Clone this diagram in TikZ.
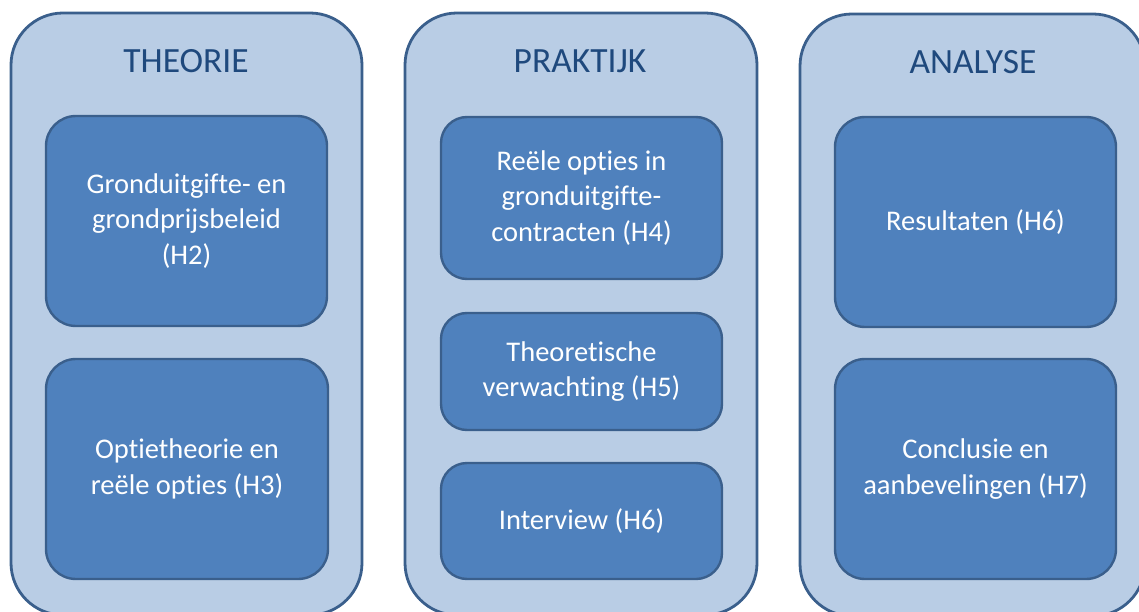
\documentclass[tikz,border=0pt]{standalone}
\usepackage{fontspec}
\setmainfont[Ligatures=NoCommon]{Carlito}
\definecolor{outerfill}{HTML}{B9CDE5}
\definecolor{boxline}{HTML}{3A5F8C}
\definecolor{innerfill}{HTML}{4F81BD}
\definecolor{titlecol}{HTML}{1F497D}
\begin{document}
\begin{tikzpicture}[x=1pt,y=-1pt]
\tikzset{
  outerbox/.style={draw=boxline, fill=outerfill, line width=2.8pt, rounded corners=52pt,
    anchor=north west, inner sep=0pt, outer sep=0pt},
  innerbox/.style={draw=boxline, fill=innerfill, line width=2.4pt, rounded corners=#1,
    anchor=north west, inner sep=0pt, outer sep=0pt},
  innerbox/.default=30pt,
  boxtext/.style={text=white, font=\fontsize{28.5}{35.5}\selectfont, align=center},
  titletext/.style={text=titlecol, font=\fontsize{35.5}{40}\selectfont}
}
\useasboundingbox (0,0) rectangle (1139,612);
\clip (0,0) rectangle (1139,612);
% outer columns
\node[outerbox, minimum width=351pt, minimum height=602pt] (theo) at (11,13) {};
\node[outerbox, minimum width=352pt, minimum height=602pt] (prak) at (405,13) {};
\node[outerbox, minimum width=345pt, minimum height=602pt] (anal) at (800,14) {};
% titles
\node[titletext] (ttheo) at (186,61) {THEORIE};
\node[titletext] (tprak) at (580,61) {PRAKTIJK};
\node[titletext] (tanal) at (973,62) {ANALYSE};
% theorie boxes
\node[innerbox, minimum width=281pt, minimum height=210pt] (t1) at (46,116) {};
\node[boxtext] at (t1.center) {Gronduitgifte- en\\grondprijsbeleid\\(H2)};
\node[innerbox, minimum width=282pt, minimum height=220pt] (t2) at (46,359) {};
\node[boxtext] at (t2.center) {Optietheorie en\\reële opties (H3)};
% praktijk boxes
\node[innerbox=26pt, minimum width=281pt, minimum height=162pt] (p1) at (441,117) {};
\node[boxtext] at (p1.center) {Reële opties in\\gronduitgifte-\\contracten (H4)};
\node[innerbox=26pt, minimum width=281pt, minimum height=117pt] (p2) at (441,313) {};
\node[boxtext] at (p2.center) {Theoretische\\verwachting (H5)};
\node[innerbox=26pt, minimum width=281pt, minimum height=116pt] (p3) at (441,463) {};
\node[boxtext] at (p3.center) {Interview (H6)};
% analyse boxes
\node[innerbox, minimum width=281pt, minimum height=210pt] (a1) at (835,117) {};
\node[boxtext] at (a1.center) {Resultaten (H6)};
\node[innerbox, minimum width=281pt, minimum height=220pt] (a2) at (835,359) {};
\node[boxtext] at (a2.center) {Conclusie en\\aanbevelingen (H7)};
\end{tikzpicture}
\end{document}
